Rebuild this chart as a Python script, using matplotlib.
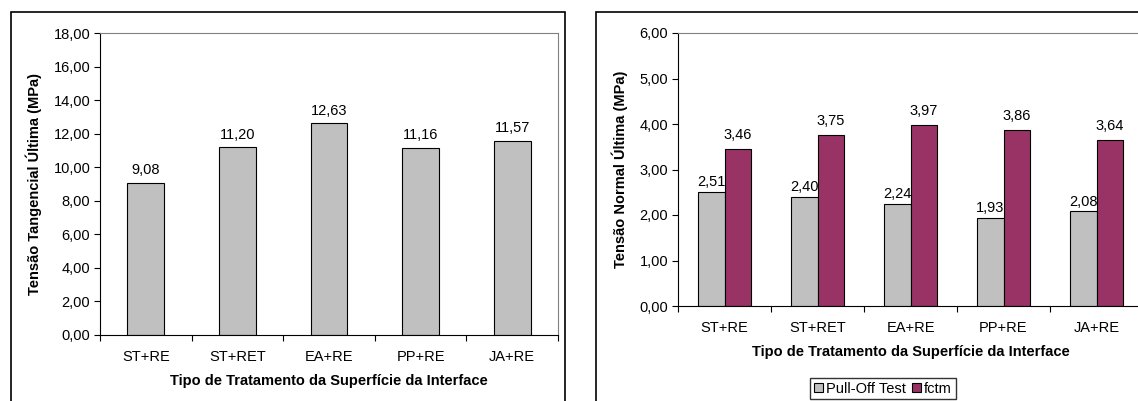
import matplotlib
matplotlib.use("Agg")
from matplotlib import pyplot as plt
from matplotlib.patches import Rectangle
import numpy as np

plt.rcParams['font.family'] = ['Liberation Sans', 'DejaVu Sans']

categorias = ["ST+RE", "ST+RET", "EA+RE", "PP+RE", "JA+RE"]
tangencial = [9.08, 11.20, 12.63, 11.16, 11.57]
pull_off = [2.51, 2.40, 2.24, 1.93, 2.08]
fctm = [3.46, 3.75, 3.97, 3.86, 3.64]

cinza = "#C0C0C0"
ameixa = "#993366"
fs = 10.5
W, H = 1138, 401


def virgula(v):
    return ("%.2f" % v).replace(".", ",")


def estilo(ax, ymax, ystep):
    n = len(categorias)
    ax.set_xlim(0, n)
    ax.set_ylim(0, ymax)
    yt = np.arange(0, ymax + ystep / 2, ystep)
    ax.set_yticks(yt)
    ax.set_yticklabels([virgula(v) for v in yt], fontsize=fs)
    ax.set_xticks(np.arange(n) + 0.5)
    ax.set_xticklabels(categorias, fontsize=fs)
    ax.set_xticks(np.arange(n + 1), minor=True)
    ax.tick_params(axis="x", which="major", length=0, pad=11)
    ax.tick_params(axis="x", which="minor", length=4, direction="out", width=0.8)
    ax.tick_params(axis="y", length=4, direction="out", width=0.8, pad=3)
    for s in ["top", "right"]:
        ax.spines[s].set_color("#808080")
        ax.spines[s].set_linewidth(0.8)
    for s in ["left", "bottom"]:
        ax.spines[s].set_color("black")
        ax.spines[s].set_linewidth(0.8)


fig = plt.figure(figsize=(W / 100, H / 100), dpi=100)

# molduras dos graficos
fig.patches.append(Rectangle((11 / W, -0.05), (565 - 11) / W, 1.05 - 12 / H,
                             transform=fig.transFigure, fill=False, edgecolor="black", linewidth=1.2))
fig.patches.append(Rectangle((596 / W, -0.05), 0.5, 1.05 - 12 / H,
                             transform=fig.transFigure, fill=False, edgecolor="black", linewidth=1.2))

# grafico esquerdo
ax1 = fig.add_axes([100 / W, 1 - 335 / H, (558 - 100) / W, (335 - 33) / H])
x = np.arange(len(categorias)) + 0.5
ax1.bar(x, tangencial, width=0.4, color=cinza, edgecolor="black", linewidth=0.8)
for xi, v in zip(x, tangencial):
    ax1.annotate(virgula(v), (xi, v), xytext=(0, 4), textcoords="offset points",
                 ha="center", va="bottom", fontsize=fs)
estilo(ax1, 18, 2)
ax1.set_ylabel("Tensão Tangencial Última (MPa)", fontsize=fs, fontweight="bold", labelpad=8)
ax1.set_xlabel("Tipo de Tratamento da Superfície da Interface", fontsize=fs, fontweight="bold", labelpad=7)

# grafico direito
ax2 = fig.add_axes([678 / W, 1 - 306 / H, (1143 - 678) / W, (306 - 33) / H])
bw = 0.29
b1 = ax2.bar(x - bw / 2, pull_off, width=bw, color=cinza, edgecolor="black", linewidth=0.8, label="Pull-Off Test")
b2 = ax2.bar(x + bw / 2, fctm, width=bw, color=ameixa, edgecolor="black", linewidth=0.8, label="fctm")
for xi, v in zip(x - bw / 2, pull_off):
    ax2.annotate(virgula(v), (xi, v), xytext=(0, 2), textcoords="offset points",
                 ha="center", va="bottom", fontsize=fs)
for xi, v in zip(x + bw / 2, fctm):
    ax2.annotate(virgula(v), (xi, v), xytext=(0, 5), textcoords="offset points",
                 ha="center", va="bottom", fontsize=fs)
estilo(ax2, 6, 1)
ax2.set_ylabel("Tensão Normal Última (MPa)", fontsize=fs, fontweight="bold", labelpad=8)
ax2.set_xlabel("Tipo de Tratamento da Superfície da Interface", fontsize=fs, fontweight="bold", labelpad=7)

fig.legend(handles=[b1, b2], loc="upper center", bbox_to_anchor=(883 / W, 1 - 378 / H),
           ncol=2, fontsize=fs, frameon=True, fancybox=False, edgecolor="black",
           handlelength=0.6, handleheight=0.6, handletextpad=0.25, columnspacing=0.4,
           borderpad=0.25, borderaxespad=0)

fig.savefig("out.png", dpi=100)
